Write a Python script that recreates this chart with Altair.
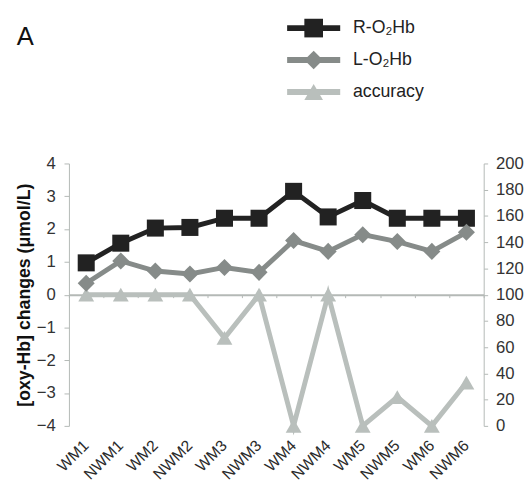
import altair as alt
import pandas as pd

categories = ["WM1", "NWM1", "WM2", "NWM2", "WM3", "NWM3",
              "WM4", "NWM4", "WM5", "NWM5", "WM6", "NWM6"]
r_o2hb = [0.97, 1.57, 2.03, 2.05, 2.33, 2.33, 3.15, 2.37, 2.87, 2.33, 2.33, 2.33]
l_o2hb = [0.35, 1.03, 0.72, 0.63, 0.83, 0.68, 1.65, 1.32, 1.83, 1.62, 1.32, 1.90]
accuracy = [100, 100, 100, 100, 67, 100, 0, 100, 0, 22, 0, 33]

series_names = ["R-O2Hb", "L-O2Hb", "accuracy"]
legend_labels = ["R-O₂Hb", "L-O₂Hb", "accuracy"]
colors = ["#222222", "#868b89", "#b9bfbc"]
shapes = ["square", "diamond", "triangle-up"]

left_ticks = [-4, -3, -2, -1, 0, 1, 2, 3, 4]
right_ticks = [0, 20, 40, 60, 80, 100, 120, 140, 160, 180, 200]

NARROW = "Liberation Sans Narrow, Arial Narrow, Liberation Sans, Arial"
REG = "Liberation Sans, Arial"

hb_df = pd.DataFrame({
    "category": categories * 2,
    "series": ["R-O2Hb"] * len(categories) + ["L-O2Hb"] * len(categories),
    "value": r_o2hb + l_o2hb,
})
acc_df = pd.DataFrame({"category": categories, "series": "accuracy", "value": accuracy})
legend_df = pd.DataFrame({"series": series_names, "label": legend_labels})

color_enc = alt.Color("series:N", scale=alt.Scale(domain=series_names, range=colors), legend=None)
shape_enc = alt.Shape("series:N", scale=alt.Scale(domain=series_names, range=shapes), legend=None)

W, H = 422, 267
xscale = alt.Scale(type="band", domain=categories, paddingInner=0, paddingOuter=0)

# ---- legend panel ----
ly = alt.Y("series:N", scale=alt.Scale(type="point", domain=series_names, padding=0.5), axis=None)
leg_base = alt.Chart(legend_df)
leg_rule = leg_base.mark_rule(strokeWidth=6).encode(x=alt.value(222), x2=alt.value(276), y=ly, color=color_enc)
leg_pt = leg_base.mark_point(filled=True, opacity=1, size=360).encode(x=alt.value(249), y=ly, color=color_enc, shape=shape_enc)
leg_txt = leg_base.mark_text(align="left", baseline="middle", fontSize=18, font=NARROW, color="#222").encode(
    x=alt.value(289), y=ly, text="label:N")
panel_label = alt.Chart(pd.DataFrame({"t": ["A"]})).mark_text(
    align="left", baseline="middle", fontSize=26, font=REG, color="#111").encode(
    x=alt.value(-53), y=alt.value(25), text="t:N")
legend_panel = alt.layer(leg_rule, leg_pt, leg_txt, panel_label).properties(width=W, height=97.5)

# ---- main panel ----
axis_gray = "#b4b9b6"
hb_base = alt.Chart(hb_df).encode(
    x=alt.X("category:N", sort=categories, scale=xscale,
            axis=alt.Axis(orient="bottom", offset=-H / 2, labels=False, title=None,
                          domainColor=axis_gray, domainWidth=2, tickColor=axis_gray,
                          tickSize=3, tickBand="extent")),
    y=alt.Y("value:Q", scale=alt.Scale(domain=[-4, 4]),
            axis=alt.Axis(values=left_ticks, title="[oxy-Hb] changes (μmol/L)", grid=False,
                          domainColor=axis_gray, tickColor=axis_gray, tickSize=5,
                          labelPadding=9, labelFontSize=17, labelFont=NARROW, labelColor="#333",
                          titleFont=REG, titleFontSize=18, titleFontWeight="bold",
                          titleColor="#111", titlePadding=3)),
    color=color_enc,
)
hb_layer = alt.layer(
    hb_base.mark_line(strokeWidth=5),
    hb_base.mark_point(filled=True, opacity=1, size=300).encode(shape=shape_enc),
)

acc_base = alt.Chart(acc_df).encode(
    x=alt.X("category:N", sort=categories, scale=xscale,
            axis=alt.Axis(orient="bottom", title=None, domain=False, ticks=False,
                          labelAngle=-45, labelAlign="right", labelBaseline="middle",
                          labelPadding=17, labelFontSize=16, labelFont=NARROW, labelColor="#2a2a2a")),
    y=alt.Y("value:Q", scale=alt.Scale(domain=[0, 200]),
            axis=alt.Axis(orient="right", values=right_ticks, title=None, grid=False,
                          domainColor=axis_gray, tickColor=axis_gray, tickSize=4,
                          labelPadding=8, labelFontSize=17, labelFont=NARROW, labelColor="#333")),
    color=color_enc,
)
acc_layer = alt.layer(
    acc_base.mark_line(strokeWidth=5),
    acc_base.mark_point(filled=True, opacity=1, size=260).encode(shape=shape_enc),
)

main_panel = alt.layer(acc_layer, hb_layer).resolve_scale(x="independent", y="independent").properties(
    width=W, height=H)

chart = alt.vconcat(legend_panel, main_panel, spacing=47).properties(
    padding={"left": 7, "top": 0, "right": 0, "bottom": 0},
    background="white",
).configure_view(strokeWidth=0)

chart.save("out.html", embed_options={"renderer": "svg", "actions": False})
